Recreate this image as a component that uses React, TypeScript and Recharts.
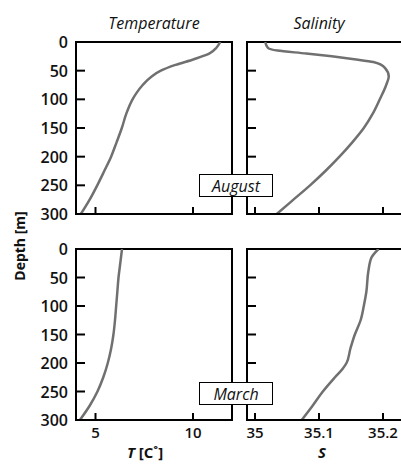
import React from 'react';
import { LineChart, Line, XAxis, YAxis, ReferenceArea } from 'recharts';

const depthTicks = [0, 50, 100, 150, 200, 250, 300];
const tempTicks = [5, 10];
const salTicks = [35, 35.1, 35.2];

const augustTemp = [
  { depth: 0, v: 11.4 },
  { depth: 10, v: 11.2 },
  { depth: 20, v: 10.85 },
  { depth: 30, v: 10.05 },
  { depth: 40, v: 9.1 },
  { depth: 50, v: 8.35 },
  { depth: 60, v: 7.88 },
  { depth: 75, v: 7.42 },
  { depth: 90, v: 7.08 },
  { depth: 100, v: 6.9 },
  { depth: 125, v: 6.58 },
  { depth: 150, v: 6.35 },
  { depth: 175, v: 6.08 },
  { depth: 200, v: 5.8 },
  { depth: 225, v: 5.45 },
  { depth: 250, v: 5.09 },
  { depth: 275, v: 4.7 },
  { depth: 300, v: 4.25 },
];

const augustSal = [
  { depth: 0, v: 35.016 },
  { depth: 10, v: 35.02 },
  { depth: 15, v: 35.035 },
  { depth: 20, v: 35.08 },
  { depth: 25, v: 35.12 },
  { depth: 30, v: 35.155 },
  { depth: 35, v: 35.185 },
  { depth: 45, v: 35.203 },
  { depth: 60, v: 35.209 },
  { depth: 75, v: 35.205 },
  { depth: 100, v: 35.195 },
  { depth: 125, v: 35.184 },
  { depth: 150, v: 35.17 },
  { depth: 175, v: 35.152 },
  { depth: 200, v: 35.132 },
  { depth: 225, v: 35.11 },
  { depth: 250, v: 35.086 },
  { depth: 275, v: 35.06 },
  { depth: 300, v: 35.034 },
];

const marchTemp = [
  { depth: 0, v: 6.36 },
  { depth: 25, v: 6.27 },
  { depth: 50, v: 6.18 },
  { depth: 75, v: 6.12 },
  { depth: 100, v: 6.06 },
  { depth: 125, v: 6.0 },
  { depth: 150, v: 5.92 },
  { depth: 175, v: 5.8 },
  { depth: 200, v: 5.63 },
  { depth: 225, v: 5.4 },
  { depth: 250, v: 5.1 },
  { depth: 275, v: 4.7 },
  { depth: 300, v: 4.2 },
];

const marchSal = [
  { depth: 0, v: 35.193 },
  { depth: 15, v: 35.182 },
  { depth: 40, v: 35.177 },
  { depth: 75, v: 35.174 },
  { depth: 100, v: 35.17 },
  { depth: 125, v: 35.165 },
  { depth: 150, v: 35.156 },
  { depth: 175, v: 35.149 },
  { depth: 200, v: 35.143 },
  { depth: 210, v: 35.137 },
  { depth: 225, v: 35.125 },
  { depth: 250, v: 35.106 },
  { depth: 275, v: 35.09 },
  { depth: 300, v: 35.073 },
];

const TEMP_DOMAIN = [4, 12];
const SAL_DOMAIN = [34.9875, 35.25];

const FONT = '"Open Sans", sans-serif';

// tick lines point into the panel (negative tickSize), labels drawn here
const DepthTick = ({ x, y, payload, showLabel }: any) =>
  showLabel ? (
    <text x={x} y={y} textAnchor="end" dominantBaseline="central" fontSize={16} fontWeight={600} fill="#111" fontFamily={FONT}>
      {payload.value}
    </text>
  ) : (
    <g />
  );

const ValueTick = ({ x, y, payload, showLabel }: any) =>
  showLabel ? (
    <text x={x} y={y + 12} textAnchor="middle" dominantBaseline="central" fontSize={15} fontWeight={600} fill="#111" fontFamily={FONT}>
      {payload.value}
    </text>
  ) : (
    <g />
  );

const Panel = ({ data, domain, ticks, left, top, width, height, margin, yWidth, yLabels, xLabels }: any) => (
  <div style={{ position: 'absolute', left, top }}>
    <LineChart width={width} height={height} data={data} layout="vertical" margin={margin}>
      <ReferenceArea x1={domain[0]} x2={domain[1]} y1={0} y2={300} fill="none" stroke="#000" strokeWidth={2} ifOverflow="visible" />
      <XAxis
        type="number"
        dataKey="v"
        domain={domain}
        ticks={ticks}
        allowDataOverflow
        height={1}
        tickSize={-7}
        tickMargin={7}
        tickLine={{ stroke: '#000', strokeWidth: 2 }}
        axisLine={{ stroke: '#000', strokeWidth: 2 }}
        tick={<ValueTick showLabel={xLabels} />}
        interval={0}
      />
      <YAxis
        type="number"
        dataKey="depth"
        domain={[0, 300]}
        ticks={depthTicks}
        allowDataOverflow
        width={yWidth}
        tickSize={-9}
        tickMargin={17}
        tickLine={{ stroke: '#000', strokeWidth: 2 }}
        axisLine={{ stroke: '#000', strokeWidth: 2 }}
        tick={<DepthTick showLabel={yLabels} />}
        interval={0}
      />
      <Line type="monotone" dataKey="v" stroke="#707070" strokeWidth={2.5} dot={false} isAnimationActive={false} />
    </LineChart>
  </div>
);

const textStyle: React.CSSProperties = {
  position: 'absolute',
  fontFamily: FONT,
  color: '#111',
  whiteSpace: 'nowrap',
  transform: 'translate(-50%, -50%)',
  lineHeight: 1,
};

const boxStyle: React.CSSProperties = {
  position: 'absolute',
  width: 72,
  height: 21,
  border: '1px solid #000',
  background: '#fff',
  fontFamily: FONT,
  fontStyle: 'italic',
  fontSize: 16,
  display: 'flex',
  alignItems: 'center',
  justifyContent: 'center',
  color: '#111',
};

export default function App() {
  const topMargin = { top: 42, right: 8, bottom: 15, left: 0 };
  const topMarginR = { top: 42, right: 5, bottom: 15, left: 0 };
  const botMargin = { top: 49, right: 8, bottom: 39, left: 0 };
  const botMarginR = { top: 49, right: 5, bottom: 39, left: 0 };
  return (
    <div style={{ position: 'absolute', left: 0, top: 0, width: 401, height: 465, overflow: 'hidden', background: '#fff' }}>
      <Panel data={augustTemp} domain={TEMP_DOMAIN} ticks={tempTicks} left={0} top={0} width={240} height={230} margin={topMargin} yWidth={76} yLabels xLabels={false} />
      <Panel data={augustSal} domain={SAL_DOMAIN} ticks={salTicks} left={240} top={0} width={180} height={230} margin={topMarginR} yWidth={7} yLabels={false} xLabels={false} />
      <Panel data={marchTemp} domain={TEMP_DOMAIN} ticks={tempTicks} left={0} top={200} width={240} height={260} margin={botMargin} yWidth={76} yLabels xLabels />
      <Panel data={marchSal} domain={SAL_DOMAIN} ticks={salTicks} left={240} top={200} width={180} height={260} margin={botMarginR} yWidth={7} yLabels={false} xLabels />

      <div style={{ ...textStyle, left: 154, top: 23, fontSize: 16, fontStyle: 'italic' }}>Temperature</div>
      <div style={{ ...textStyle, left: 319, top: 23, fontSize: 16, fontStyle: 'italic' }}>Salinity</div>
      <div style={{ ...textStyle, left: 20, top: 246, fontSize: 14, fontWeight: 700, transform: 'translate(-50%, -50%) rotate(-90deg)' }}>Depth [m]</div>
      <div style={{ ...textStyle, left: 145, top: 452, fontSize: 15, fontWeight: 700 }}>
        <span style={{ fontStyle: 'italic' }}>T</span> [C˚]
      </div>
      <div style={{ ...textStyle, left: 322, top: 452, fontSize: 15, fontWeight: 700, fontStyle: 'italic' }}>S</div>

      <div style={{ ...boxStyle, left: 199, top: 174 }}>August</div>
      <div style={{ ...boxStyle, left: 199, top: 382 }}>March</div>
    </div>
  );
}
